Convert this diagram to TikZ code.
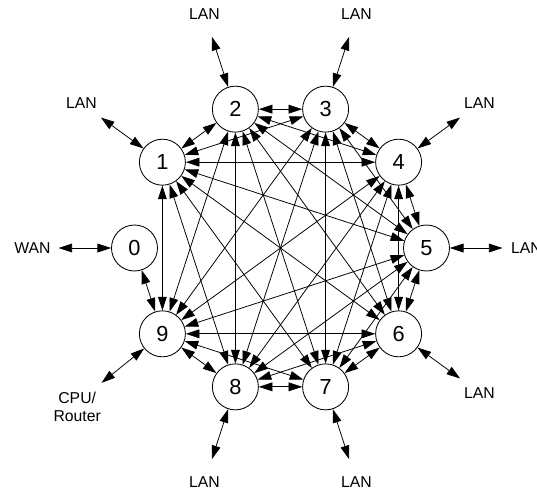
\documentclass[tikz,border=0pt]{standalone}
\usepackage{fontspec}
\setmainfont{Liberation Sans}
\usetikzlibrary{arrows.meta}
\begin{document}
\begin{tikzpicture}[
	nut/.style={circle,draw,fill=white,line width=0.6pt,minimum size=1.15cm,inner sep=0pt,font=\fontsize{15.5}{15}\selectfont},
	canh/.style={{Triangle[length=0.34cm,width=0.22cm]}-{Triangle[length=0.34cm,width=0.22cm]},line width=0.55pt},
	nhan/.style={font=\fontsize{11.2}{13}\selectfont,align=center,inner sep=0pt}
	]
	\useasboundingbox (-7.0125,-6.025) rectangle (6.4125,6.2);
	
	% cac nut tren vong
	\foreach \i in {0,...,9}
		\node[nut] (n\i) at ({180-36*\i}:3.65) {\i};
	
	% do thi day du 1..9
	\foreach \i [evaluate=\i as \j using int(\i+1)] in {1,...,8}
		\foreach \k in {\j,...,9}
			\draw[canh] (n\i) -- (n\k);
	\draw[canh] (n0) -- (n9);
	
	% LAN ben ngoai
	\foreach \i in {1,...,8}{
		\coordinate (e\i) at ({180-36*\i}:5.55);
		\node[nhan] (l\i) at ({180-36*\i}:6.15) {LAN};
		\draw[canh] (n\i) -- (e\i);
	}
	\coordinate (e0) at (180:5.55);
	\node[nhan] (l0) at (180:6.2) {WAN};
	\draw[canh] (n0) -- (e0);
	\coordinate (e9) at (-143:5.6);
	\node[nhan] (l9) at (-142:6.45) {CPU/\\Router};
	\draw[canh] (n9) -- (e9);
\end{tikzpicture}
\end{document}
